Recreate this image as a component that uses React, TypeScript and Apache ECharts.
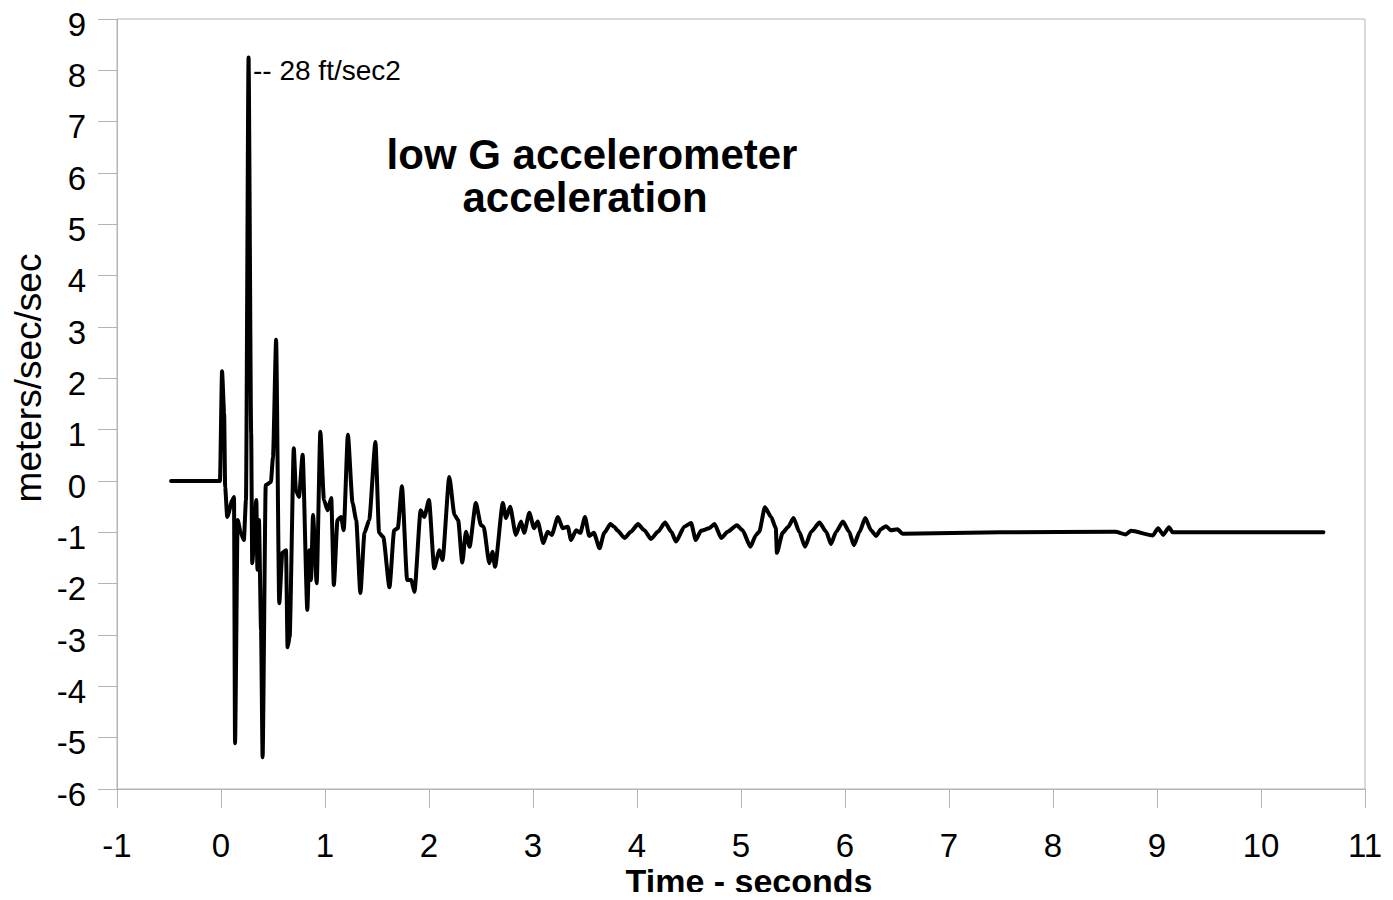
import React, { useEffect, useRef } from "react";
import * as echarts from "echarts";

// time in seconds
const times: number[] = [
  -0.48, -0.01, 0.01, 0.03, 0.04, 0.06, 0.11, 0.125, 0.135, 0.16, 0.19, 0.22, 0.24, 0.265,
  0.29, 0.30, 0.34, 0.35, 0.365, 0.385, 0.40, 0.43, 0.48, 0.50, 0.53, 0.56, 0.59, 0.625,
  0.64, 0.66, 0.70, 0.72, 0.75, 0.785, 0.83, 0.85, 0.865, 0.885, 0.92, 0.955, 0.99, 1.025,
  1.06, 1.085, 1.12, 1.155, 1.18, 1.22, 1.265, 1.30, 1.34, 1.38, 1.425, 1.485, 1.52, 1.56,
  1.62, 1.665, 1.70, 1.74, 1.79, 1.83, 1.86, 1.92, 1.955, 2.00, 2.05, 2.10, 2.13, 2.195,
  2.245, 2.28, 2.32, 2.355, 2.39, 2.45, 2.50, 2.525, 2.58, 2.61, 2.635, 2.71, 2.74, 2.78,
  2.835, 2.885, 2.915, 2.965, 3.01, 3.045, 3.10, 3.14, 3.18, 3.24, 3.285, 3.335, 3.365,
  3.415, 3.455, 3.50, 3.54, 3.585, 3.64, 3.685, 3.745, 3.78, 3.815, 3.88, 3.94, 4.01, 4.07,
  4.135, 4.20, 4.27, 4.33, 4.375, 4.455, 4.52, 4.565, 4.615, 4.695, 4.745, 4.81, 4.87, 4.96,
  5.015, 5.09, 5.145, 5.175, 5.23, 5.29, 5.335, 5.345, 5.40, 5.455, 5.505, 5.56, 5.615,
  5.675, 5.755, 5.82, 5.865, 5.915, 5.98, 6.04, 6.085, 6.14, 6.195, 6.25, 6.30, 6.345, 6.395,
  6.44, 6.505, 6.555, 7.5, 8.6, 8.7, 8.75, 8.96, 9.01, 9.06, 9.115, 9.15, 10.6,
];

// acceleration in meters/sec/sec
const accel: number[] = [
  0, 0, 2.14, 1.33, -0.12, -0.7, -0.37, -0.31, -5.11, -0.76, -1.01, -1.15, -0.37, 8.25,
  0.94, -1.6, -0.37, -1.73, -0.76, -2.9, -5.38, -0.08, -0.02, 0.47, 2.75, -2.38, -1.4, -1.35,
  -3.24, -3.04, 0.64, -0.18, -0.31, 0.51, -2.51, -1.35, -1.93, -0.66, -1.99, 0.96, -0.37, -0.57,
  -0.33, -2.03, -0.76, -0.7, -0.96, 0.9, -0.43, -0.76, -2.18, -1.01, -0.76, 0.76, -1.01, -1.09,
  -2.07, -0.96, -0.92, -0.1, -1.93, -1.93, -2.16, -0.57, -0.7, -0.37, -1.7, -1.35, -1.54, 0.08,
  -0.66, -0.76, -1.59, -0.99, -1.28, -0.43, -0.86, -0.89, -1.6, -1.38, -1.67, -0.43, -0.72, -0.5,
  -1.05, -0.79, -1.01, -0.62, -0.92, -0.79, -1.21, -0.99, -1.05, -0.7, -0.92, -0.89, -1.15,
  -0.96, -1.01, -0.7, -1.07, -1.01, -1.31, -1.01, -0.84, -0.89, -0.97, -1.11, -0.99, -0.84, -0.96,
  -1.13, -0.99, -0.81, -0.99, -1.18, -0.89, -0.82, -1.15, -0.97, -0.92, -0.84, -1.11, -0.99, -0.86,
  -0.96, -1.28, -1.05, -0.99, -0.51, -0.7, -0.92, -1.4, -1.01, -0.89, -0.72, -0.99, -1.28,
  -0.99, -0.81, -0.99, -1.23, -0.99, -0.79, -0.99, -1.25, -0.99, -0.72, -0.96, -1.07, -0.94, -0.88,
  -0.96, -0.94, -1.03, -1.0, -0.99, -1.04, -0.97, -1.06, -0.92, -1.05, -0.9, -1.0, -1.0,
];

const xTicks = { min: -1, max: 11, interval: 1 };
const yTicks = { min: -6, max: 9, interval: 1 };

const titleLines = ["low G accelerometer", "acceleration"];
const peakNote = "-- 28 ft/sec2";
const xTitle = "Time - seconds";
const yTitle = "meters/sec/sec";

const FONT = "'Liberation Sans', Arial, Helvetica, sans-serif";
const GRAY = "#b4b4b4";

export default function App() {
  const ref = useRef<HTMLDivElement>(null);

  useEffect(() => {
    if (!ref.current) return;
    const chart = echarts.init(ref.current, undefined, { renderer: "svg" });
    const data = times.map((t, i) => [t, accel[i]]);
    chart.setOption({
      animation: false,
      backgroundColor: "#ffffff",
      textStyle: { fontFamily: FONT },
      grid: {
        left: 117,
        right: 28,
        top: 19,
        bottom: 111,
        show: true,
        borderColor: GRAY,
        borderWidth: 1,
        containLabel: false,
      },
      xAxis: {
        type: "value",
        min: xTicks.min,
        max: xTicks.max,
        interval: xTicks.interval,
        axisLine: { show: true, onZero: false, lineStyle: { color: GRAY, width: 1 } },
        axisTick: { show: true, inside: false, length: 19, lineStyle: { color: GRAY } },
        splitLine: { show: false },
        axisLabel: {
          color: "#000",
          fontSize: 33,
          fontFamily: FONT,
          margin: 40,
          showMinLabel: true,
          showMaxLabel: true,
        },
      },
      yAxis: {
        type: "value",
        min: yTicks.min,
        max: yTicks.max,
        interval: yTicks.interval,
        axisLine: { show: true, onZero: false, lineStyle: { color: GRAY, width: 1 } },
        axisTick: { show: true, inside: false, length: 19, lineStyle: { color: GRAY } },
        splitLine: { show: false },
        axisLabel: {
          color: "#000",
          fontSize: 33,
          fontFamily: FONT,
          margin: 31,
          formatter: "{v|{value}}",
          rich: {
            v: {
              color: "#000",
              fontSize: 33,
              fontFamily: FONT,
              padding: [10, 0, 0, 0],
            },
          },
          showMinLabel: true,
          showMaxLabel: true,
        },
      },
      series: [
        {
          type: "line",
          data,
          showSymbol: false,
          symbol: "none",
          smooth: 0.2,
          smoothMonotone: "x",
          lineStyle: { color: "#000", width: 4, join: "round", cap: "round" },
          z: 5,
        },
      ],
      graphic: [
        {
          type: "text",
          x: 592,
          y: 154,
          style: {
            text: titleLines[0],
            font: `bold 42px ${FONT}`,
            fill: "#000",
            textAlign: "center",
            textVerticalAlign: "middle",
          },
        },
        {
          type: "text",
          x: 585,
          y: 197,
          style: {
            text: titleLines[1],
            font: `bold 42px ${FONT}`,
            fill: "#000",
            textAlign: "center",
            textVerticalAlign: "middle",
          },
        },
        {
          type: "text",
          x: 253,
          y: 70,
          style: {
            text: peakNote,
            font: `28px ${FONT}`,
            fill: "#000",
            textAlign: "left",
            textVerticalAlign: "middle",
          },
        },
        {
          type: "text",
          x: 749,
          y: 881,
          style: {
            text: xTitle,
            font: `bold 34px ${FONT}`,
            fill: "#000",
            textAlign: "center",
            textVerticalAlign: "middle",
          },
        },
        {
          type: "text",
          x: 28,
          y: 378,
          rotation: Math.PI / 2,
          style: {
            text: yTitle,
            font: `37px ${FONT}`,
            fill: "#000",
            textAlign: "center",
            textVerticalAlign: "middle",
          },
        },
      ],
    });
    return () => chart.dispose();
  }, []);

  return <div ref={ref} style={{ width: 1393, height: 900, margin: -8 }} />;
}
